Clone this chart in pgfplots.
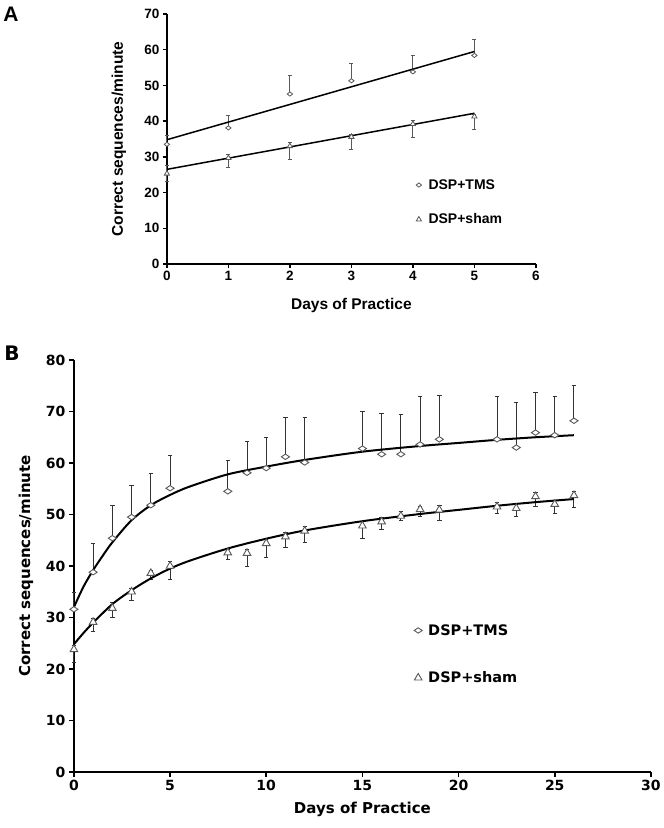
\documentclass[border=0pt]{standalone}
\usepackage{fontspec}
\setmainfont{Liberation Sans}
\newfontfamily\arialf{Liberation Sans}
\newfontfamily\verd{DejaVu Sans}
\usepackage{pgfplots}
\usepackage{pgfplotstable}
\pgfplotsset{compat=1.18}

\pgfplotstableread{
x y e
0 33.5 2.5
1 38.1 3.4
2 47.6 5.3
3 51.3 4.8
4 53.8 4.5
5 58.4 4.6
}\Atms
\pgfplotstableread{
x y ep em
0 25.3 2.3 2.3
1 29.7 1.0 2.6
2 33.0 1.1 3.7
3 35.6 0.8 3.4
4 39.2 1.0 3.7
5 41.3 0.6 3.7
}\Asham
\pgfplotstableread{
x y e
0 31.6 3.3
1 38.8 5.5
2 45.4 6.4
3 49.5 6.2
4 51.8 6.1
5 55.1 6.3
8 54.5 5.9
9 58.1 6.0
10 59.0 6.0
11 61.2 7.7
12 60.1 8.8
15 62.8 7.2
16 61.7 7.9
17 61.7 7.8
18 63.6 9.3
19 64.6 8.5
22 64.6 8.3
23 63.0 8.8
24 65.9 7.8
25 65.4 7.5
26 68.2 6.8
}\Btms
\pgfplotstableread{
x y ep em
0 23.8 0.8 2.5
1 29.1 0.8 1.9
2 31.8 1.2 1.8
3 35.0 0.7 1.7
4 38.6 0.6 1.3
5 40.0 0.8 2.7
8 42.6 0.7 1.4
9 42.5 0.8 2.5
10 44.4 0.8 2.7
11 45.7 0.8 2.1
12 46.8 0.8 2.3
15 47.8 0.8 2.4
16 48.6 0.8 1.5
17 49.7 0.9 0.9
18 51.0 0.6 1.4
19 50.9 0.8 2.0
22 51.5 0.8 1.4
23 51.2 0.8 1.6
24 53.5 0.8 2.0
25 52.0 0.8 1.8
26 53.7 0.8 2.4
}\Bsham

\definecolor{mk}{gray}{0.35}

\begin{document}
\begin{tikzpicture}
\path (0,0) rectangle (662bp,-828bp);
\node[anchor=center, font=\arialf\bfseries\fontsize{21bp}{23bp}\selectfont] at (10bp,-14bp) {A};
\node[anchor=center, font=\verd\bfseries\fontsize{20bp}{22bp}\selectfont] at (11bp,-353bp) {B};

% ---------------- Panel A
\begin{axis}[
  at={(166bp,-264bp)}, anchor=south west,
  scale only axis, width=369bp, height=250bp,
  xmin=0, xmax=6, ymin=0, ymax=70,
  xtick={0,1,2,3,4,5,6}, ytick={0,10,20,30,40,50,60,70},
  axis x line*=bottom, axis y line*=left,
  axis line style={line width=1.8bp, black},
  tick align=outside, major tick length=4bp,
  tick style={line width=1.3bp, black},
  /pgf/number format/assume math mode=true,
  ticklabel style={font=\arialf\bfseries\fontsize{13.5bp}{15bp}\selectfont},
  xlabel={Days of Practice}, ylabel={Correct sequences/minute},
  label style={font=\arialf\bfseries\fontsize{15.5bp}{17bp}\selectfont},
  xlabel style={at={(axis description cs:0.5,-0.164)}, anchor=center},
  ylabel style={at={(axis description cs:-0.130,0.5)}, anchor=center},
  clip=false,
  legend image code/.code={\draw[#1] plot coordinates {(0bp,0bp)};},
  legend cell align=left,
  legend style={at={(axis cs:4.05,24.3)}, anchor=north west, draw=none, fill=none,
    inner sep=0pt, row sep=19bp,
    /tikz/every odd column/.append style={column sep=5bp},
    font=\arialf\bfseries\fontsize{14bp}{16bp}\selectfont},
]
\addplot[only marks, mark=diamond*, mark size=2.1bp,
  mark options={xscale=1.7, fill=white, draw=mk, line width=0.8bp},
  error bars/.cd, y dir=plus, y explicit,
  error bar style={line width=0.9bp, mk},
  error mark options={rotate=90, line width=0.9bp, mk, mark size=2bp}]
  table[x=x, y=y, y error=e] {\Atms};
\addplot[only marks, mark=triangle*, mark size=3bp,
  mark options={fill=white, draw=mk, line width=0.8bp}]
  table[x=x, y=y] {\Asham};
\addplot[draw=none, mark=none, forget plot,
  error bars/.cd, y dir=both, y explicit,
  error bar style={line width=0.9bp, mk},
  error mark options={rotate=90, line width=0.9bp, mk, mark size=2bp}]
  table[x=x, y=y, y error plus=ep, y error minus=em] {\Asham};
\addplot[black, line width=1.5bp, forget plot] coordinates {(0,34.8) (5,59.5)};
\addplot[black, line width=1.5bp, forget plot] coordinates {(0,26.5) (5,42.2)};
\addlegendentry{DSP+TMS}
\addlegendentry{DSP+sham}
\end{axis}

% ---------------- Panel B
\begin{axis}[
  at={(73bp,-772bp)}, anchor=south west,
  scale only axis, width=577bp, height=412bp,
  xmin=0, xmax=30, ymin=0, ymax=80,
  xtick={0,5,10,15,20,25,30}, ytick={0,10,20,30,40,50,60,70,80},
  axis x line*=bottom, axis y line*=left,
  axis line style={line width=2.2bp, black},
  tick align=outside, major tick length=5bp,
  tick style={line width=1.6bp, black},
  /pgf/number format/assume math mode=true,
  ticklabel style={font=\verd\bfseries\fontsize{14bp}{16bp}\selectfont},
  xlabel={Days of Practice}, ylabel={Correct sequences/minute},
  label style={font=\verd\bfseries\fontsize{15bp}{17bp}\selectfont},
  xlabel style={at={(axis description cs:0.5,-0.092)}, anchor=center},
  ylabel style={at={(axis description cs:-0.083,0.5)}, anchor=center},
  clip=false,
  legend image code/.code={\draw[#1] plot coordinates {(0bp,0bp)};},
  legend cell align=left,
  legend style={at={(axis cs:17.68,29.1)}, anchor=north west, draw=none, fill=none,
    inner sep=0pt, row sep=31bp,
    /tikz/every odd column/.append style={column sep=4bp},
    font=\verd\bfseries\fontsize{14.5bp}{16bp}\selectfont},
]
\addplot[only marks, mark=diamond*, mark size=2.7bp,
  mark options={xscale=2.0, fill=white, draw=mk, line width=0.9bp},
  error bars/.cd, y dir=plus, y explicit,
  error bar style={line width=1bp, black!80},
  error mark options={rotate=90, line width=1bp, black!80, mark size=2.2bp}]
  table[x=x, y=y, y error=e] {\Btms};
\addplot[only marks, mark=triangle*, mark size=4.4bp,
  mark options={fill=white, draw=mk, line width=0.9bp}]
  table[x=x, y=y] {\Bsham};
\addplot[draw=none, mark=none, forget plot,
  error bars/.cd, y dir=both, y explicit,
  error bar style={line width=1bp, black!80},
  error mark options={rotate=90, line width=1bp, black!80, mark size=2.2bp}]
  table[x=x, y=y, y error plus=ep, y error minus=em] {\Bsham};
\addplot[black, line width=2bp, smooth, forget plot] coordinates {
(0,32.0) (0.5,36.0) (1,39.2) (1.5,42.0) (2,44.6) (3,48.9) (4,51.8) (5,53.8) (6,55.4)
(8,57.8) (10,59.3) (12,60.6) (15,62.2) (18,63.3) (20,63.9) (22,64.5) (24,65.0) (26,65.4)};
\addplot[black, line width=2bp, smooth, forget plot] coordinates {
(0,24.8) (0.5,27.0) (1,29.0) (2,32.6) (3,35.3) (4,37.6) (5,39.5) (6,41.0) (8,43.4)
(10,45.3) (12,46.9) (15,48.7) (18,50.1) (20,50.9) (22,51.7) (24,52.4) (26,53.0)};
\addlegendentry{DSP+TMS}
\addlegendentry{DSP+sham}
\end{axis}
\end{tikzpicture}
\end{document}
